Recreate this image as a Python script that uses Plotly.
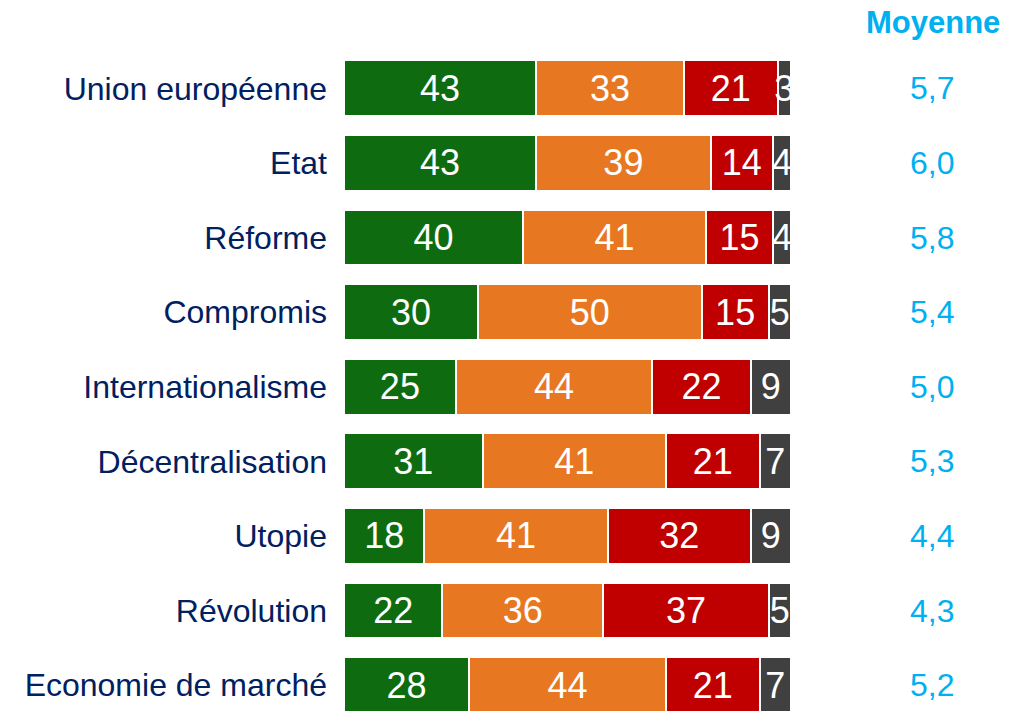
import plotly.graph_objects as go

# Survey items, top to bottom
categories = [
    "Union européenne", "Etat", "Réforme", "Compromis", "Internationalisme",
    "Décentralisation", "Utopie", "Révolution", "Economie de marché",
]

# Share of answers per level (percent), one list per stacked segment
series_names = ["Positif", "Neutre", "Négatif", "NSP"]
positif = [43, 43, 40, 30, 25, 31, 18, 22, 28]
neutre = [33, 39, 41, 50, 44, 41, 41, 36, 44]
negatif = [21, 14, 15, 15, 22, 21, 32, 37, 21]
nsp = [3, 4, 4, 5, 9, 7, 9, 5, 7]

# Average score per item
moyenne = ["5,7", "6,0", "5,8", "5,4", "5,0", "5,3", "4,4", "4,3", "5,2"]

colors = ["#0F6B0F", "#E87722", "#C00000", "#404040"]
FONT = "Liberation Sans, Arial, sans-serif"

fig = go.Figure()
for name, vals, col in zip(series_names, [positif, neutre, negatif, nsp], colors):
    fig.add_trace(go.Bar(
        y=categories,
        x=vals,
        name=name,
        orientation="h",
        marker=dict(color=col, line=dict(color="white", width=2)),
        text=[str(v) for v in vals],
        textposition="inside",
        insidetextanchor="middle",
        textfont=dict(family=FONT, size=36, color="white"),
        cliponaxis=True,
        hoverinfo="skip",
    ))

# Right-hand column of averages
for cat, m in zip(categories, moyenne):
    fig.add_annotation(
        x=1.316, xref="paper", y=cat, yref="y",
        text=m, showarrow=False, xanchor="center", yanchor="middle",
        font=dict(family=FONT, size=32, color="#00B0F0"),
    )

# Column header above the averages
fig.add_annotation(
    x=1.318, xref="paper", y=1.0, yref="paper", yanchor="middle", yshift=29,
    text="<b>Moyenne</b>", showarrow=False, xanchor="center",
    font=dict(family=FONT, size=31, color="#00B0F0"),
)

fig.update_layout(
    width=1030, height=711,
    barmode="stack",
    bargap=0.25,
    showlegend=False,
    plot_bgcolor="white",
    paper_bgcolor="white",
    margin=dict(l=344, r=239, t=51, b=0),
    uniformtext=dict(minsize=36, mode="show"),
    font=dict(family=FONT),
)
fig.update_xaxes(range=[0, 100], visible=False, fixedrange=True)
fig.update_yaxes(
    categoryorder="array", categoryarray=categories,
    range=[8.347, -0.5],
    showgrid=False, zeroline=False, showline=False, ticks="",
    ticklabelstandoff=16,
    tickfont=dict(family=FONT, size=32, color="#002060"),
)

fig.write_html("out.html")
